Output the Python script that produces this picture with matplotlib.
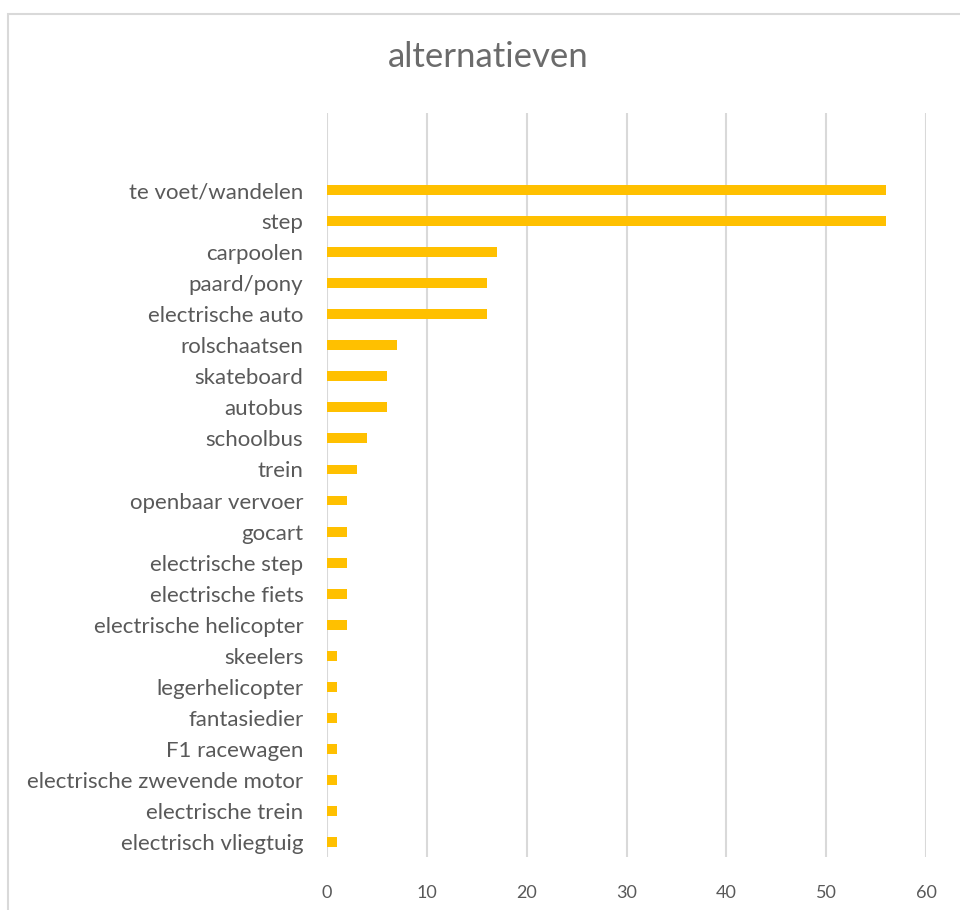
import matplotlib
matplotlib.use("Agg")
import matplotlib.pyplot as plt
from matplotlib.patches import Rectangle

categories = ["te voet/wandelen", "step", "carpoolen", "paard/pony", "electrische auto",
              "rolschaatsen", "skateboard", "autobus", "schoolbus", "trein",
              "openbaar vervoer", "gocart", "electrische step", "electrische fiets",
              "electrische helicopter", "skeelers", "legerhelicopter", "fantasiedier",
              "F1 racewagen", "electrische zwevende motor", "electrische trein",
              "electrisch vliegtuig"]
values = [56, 56, 17, 16, 16, 7, 6, 6, 4, 3, 2, 2, 2, 2, 2, 1, 1, 1, 1, 1, 1, 1]
xticks = [0, 10, 20, 30, 40, 50, 60]
title = "alternatieven"

plt.rcParams['font.family'] = ['Lato', 'DejaVu Sans']
W, H = 960, 910
fig = plt.figure(figsize=(W/100, H/100), dpi=100)
ax = fig.add_axes([327/W, 1-857/H, (926-327)/W, (857-113)/H])

n = len(categories)
ypos = list(range(n-1, -1, -1))
ax.barh(ypos, values, height=0.32, color="#FFC000", zorder=3)
ax.set_yticks(ypos)
ax.set_yticklabels(categories, fontsize=16, color="#595959")
ax.set_xlim(0, 60)
ax.set_ylim(-0.48, n-1+2.48)
ax.set_xticks(xticks)
ax.set_xticklabels([str(t) for t in xticks], fontsize=13, color="#595959")
ax.tick_params(axis='both', length=0)
ax.tick_params(axis='x', pad=20)
ax.tick_params(axis='y', pad=17)
for s in ax.spines.values():
    s.set_visible(False)
ax.grid(axis='x', color="#D9D9D9", linewidth=1.5, zorder=0)
ax.set_axisbelow(True)

fig.text(488/W, 1-57/H, title, ha='center', va='center', fontsize=25,
         color="#6b6b6b")

fig.patches.append(Rectangle((8/W, -0.05), 1.0, 1-14/H+0.05, transform=fig.transFigure,
                             fill=False, edgecolor="#D9D9D9", linewidth=1.5, clip_on=False))

fig.savefig("out.png", dpi=100)
